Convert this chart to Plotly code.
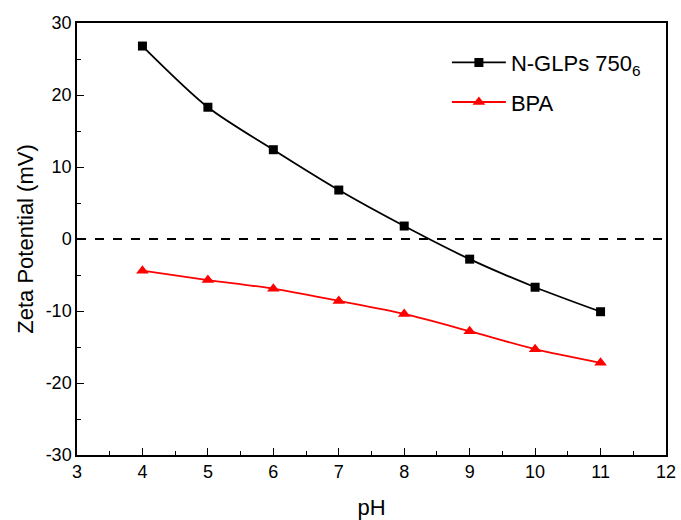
import plotly.graph_objects as go

ph = [4, 5, 6, 7, 8, 9, 10, 11]
nglps = [26.8, 18.3, 12.4, 6.8, 1.8, -2.8, -6.7, -10.1]
bpa = [-4.4, -5.7, -6.9, -8.6, -10.4, -12.8, -15.3, -17.2]
y_ticks = [-30, -20, -10, 0, 10, 20, 30]
y_ticklabels = ["-30", "-20", "-10", "0", "10", "20", "30"]

FONT = "Liberation Sans, Arial"

fig = go.Figure()
fig.add_trace(go.Scatter(x=ph, y=nglps, mode="lines+markers", name="N-GLPs 750<sub>6</sub>",
                         legendgroup="a",
                         line=dict(color="black", width=1.8, shape="spline", smoothing=0.8),
                         marker=dict(symbol="square", size=9, color="black")))
fig.add_trace(go.Scatter(x=ph, y=bpa, mode="lines+markers", name="BPA",
                         legendgroup="b",
                         line=dict(color="red", width=1.8, shape="spline", smoothing=0.8),
                         marker=dict(symbol="triangle-up", size=11, color="red")))
fig.add_shape(type="line", xref="x", yref="y", x0=3, x1=12, y0=0, y1=0,
              line=dict(color="black", width=2, dash="dash"))

axis_common = dict(showline=True, linecolor="black", linewidth=1.5, mirror=True,
                   ticks="inside", ticklen=7, tickwidth=1.2, tickcolor="black",
                   showgrid=False, zeroline=False, automargin=False,
                   tickfont=dict(family=FONT, size=18, color="black"))

fig.update_xaxes(range=[3, 12], dtick=1,
                 title=dict(text="pH", font=dict(family=FONT, size=22, color="black"), standoff=20),
                 minor=dict(ticks="inside", ticklen=4, dtick=0.5, tickcolor="black", tickwidth=1.2),
                 **axis_common)
fig.update_yaxes(range=[-30, 30], tickvals=y_ticks, ticktext=y_ticklabels,
                 title=dict(text="Zeta Potential (mV)", font=dict(family=FONT, size=22, color="black"), standoff=6),
                 minor=dict(ticks="inside", ticklen=4, dtick=5, tickcolor="black", tickwidth=1.2),
                 **axis_common)

fig.update_layout(width=681, height=520, margin=dict(l=77, r=15, t=23, b=65),
                  plot_bgcolor="white", paper_bgcolor="white",
                  legend=dict(x=0.628, y=0.957, xanchor="left", yanchor="top",
                              bgcolor="rgba(0,0,0,0)", itemwidth=54,
                              traceorder="grouped", tracegroupgap=8,
                              font=dict(family=FONT, size=22, color="black")))
fig.write_html("out.html")
